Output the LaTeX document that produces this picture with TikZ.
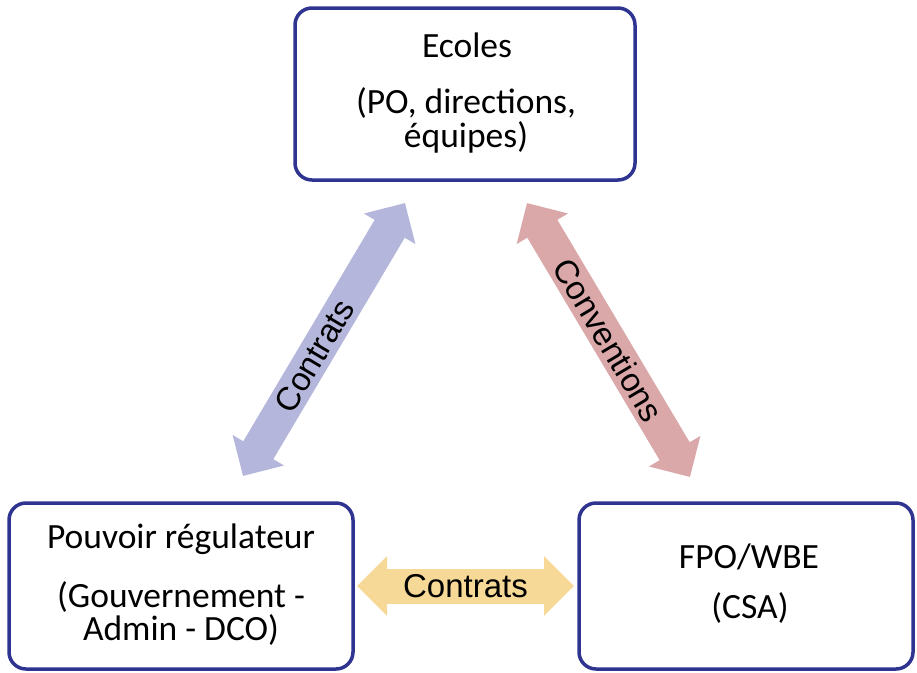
\documentclass[tikz,border=0pt]{standalone}
\usepackage{fontspec}
\setmainfont{Carlito}
\newfontfamily\labelfont{Liberation Sans}
\usetikzlibrary{arrows.meta}

\definecolor{boxblue}{RGB}{46,52,143}
\definecolor{lavender}{RGB}{181,182,220}
\definecolor{rosy}{RGB}{218,168,169}
\definecolor{sand}{RGB}{246,217,150}

\begin{document}
\begin{tikzpicture}[x=1pt,y=-1pt,
  panel/.style={draw=boxblue, line width=3.5pt, rounded corners=17pt,
    fill=white, inner sep=0pt},
  boxtext/.style={font=\fontsize{35.5}{37}\selectfont, anchor=base, inner sep=0pt},
  link/.style={line width=35pt,
    {Triangle[length=30pt,width=58pt]}-{Triangle[length=30pt,width=58pt]}},
  linklabel/.style={font=\labelfont\fontsize{33}{35}\selectfont,
    sloped, inner sep=0pt, text=black}
]
\useasboundingbox (0,0) rectangle (917,672);

% the three partners
\node[panel, minimum width=340pt, minimum height=172pt] (ecoles) at (465,94) {};
\node[panel, minimum width=344pt, minimum height=166pt] (regul) at (181,586) {};
\node[panel, minimum width=334pt, minimum height=166pt] (fpo) at (746,586) {};

% box texts, one node per line
\node[boxtext] (ecoles-1) at (467,57) {Ecoles};
\node[boxtext] (ecoles-2) at (466,113) {(PO, directions,};
\node[boxtext] (ecoles-3) at (466,147) {équipes)};

\node[boxtext] (regul-1) at (181,548) {Pouvoir régulateur};
\node[boxtext] (regul-2) at (181,607) {(Gouvernement -};
\node[boxtext] (regul-3) at (181,640) {Admin - DCO)};

\node[boxtext] (fpo-1) at (749,568) {FPO/WBE};
\node[boxtext] (fpo-2) at (750,618) {(CSA)};

% free ends of the double arrows
\coordinate (left-lo) at (243,476);
\coordinate (left-hi) at (405,203);
\coordinate (right-hi) at (527,203);
\coordinate (right-lo) at (690,477);
\coordinate (bottom-l) at (357,586);
\coordinate (bottom-r) at (574,586);

% relations
\draw[link, draw=lavender] (left-lo) -- node[linklabel, pos=0.44] {Contrats} (left-hi);
\draw[link, draw=rosy] (right-hi) -- node[linklabel, pos=0.5] {Conventions} (right-lo);
\draw[link, draw=sand] (bottom-l) -- node[linklabel] {Contrats} (bottom-r);
\end{tikzpicture}
\end{document}
